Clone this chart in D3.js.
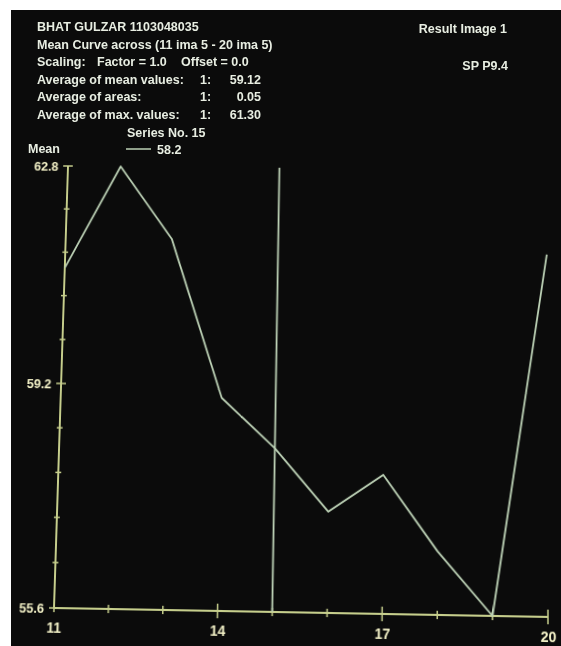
<!DOCTYPE html>
<html>

<head>
    <meta charset="UTF-8">
    <title>Mean Curve</title>
    <style>
        body {
            margin: 0;
            width: 561px;
            height: 646px;
            background: #fff;
            overflow: hidden;
            position: relative;
            font-family: 'Liberation Sans', Arial, sans-serif;
        }

        #screen {
            position: absolute;
            left: 11px;
            top: 10px;
            width: 550px;
            height: 636px;
            background: #0b0b0b;
        }

        svg {
            position: absolute;
            left: 0;
            top: 0;
        }

        #plot {
            transform-origin: 0 0;
        }
    </style>
</head>

<body>
    <div id="screen"></div>
    <svg id="plot" width="620" height="530"></svg>
    <svg id="head" width="561" height="646"></svg>

    <script src="https://cdn.jsdelivr.net/npm/d3@7"></script>
    <script>
        // values
        const images = [11, 12, 13, 14, 15, 16, 17, 18, 19, 20];
        const meanValues = [61.1, 62.8, 61.6, 59.0, 58.2, 57.2, 57.8, 56.6, 55.6, 61.4];
        const xLabels = [11, 14, 17, 20];
        const yLabels = [55.6, 59.2, 62.8];
        const yTicks = [55.6, 56.32, 57.04, 57.76, 58.48, 59.2, 59.92, 60.64, 61.36, 62.08, 62.8];
        const cursorImage = 15;
        const cursorValue = '58.2';
        const seriesNo = 15;

        const patient = 'BHAT GULZAR 1103048035';
        const title = 'Mean Curve across (11 ima 5 - 20 ima 5)';
        const scaling = ['Scaling:', 'Factor = 1.0', 'Offset = 0.0'];
        const infoLabels = ['Average of mean values:', 'Average of areas:', 'Average of max. values:'];
        const infoValues = ['59.12', '0.05', '61.30'];
        const resultLabels = ['Result Image 1', 'SP P9.4'];

        const axisColor = '#c6ce8c';
        const curveColor = '#bdd2b6';
        const labelColor = '#f2f0c6';
        const textColor = '#e8eee2';

        // plot in flat coords, then warped like the photo (keystone)
        const margin = { left: 70, top: 30 };
        const W = 494;
        const H = 442;

        const x = d3.scaleLinear().domain([11, 20]).range([margin.left, margin.left + W]);
        const y = d3.scaleLinear().domain([55.6, 62.8]).range([margin.top + H, margin.top]);

        const plot = d3.select('#plot');

        // axes
        plot.append('line')
            .attr('x1', x(11)).attr('x2', x(11))
            .attr('y1', y(55.6)).attr('y2', y(62.8))
            .attr('stroke', axisColor).attr('stroke-width', 2);
        plot.append('line')
            .attr('x1', x(11)).attr('x2', x(20))
            .attr('y1', y(55.6)).attr('y2', y(55.6))
            .attr('stroke', axisColor).attr('stroke-width', 2);

        plot.append('g')
            .selectAll('line')
            .data(yTicks)
            .enter()
            .append('line')
            .attr('x1', d => x(11) - (yLabels.includes(d) ? 5 : 3))
            .attr('x2', d => x(11) + (yLabels.includes(d) ? 5 : 3))
            .attr('y1', d => y(d)).attr('y2', d => y(d))
            .attr('stroke', axisColor).attr('stroke-width', 1.5);

        plot.append('g')
            .selectAll('line')
            .data(images)
            .enter()
            .append('line')
            .attr('x1', d => x(d)).attr('x2', d => x(d))
            .attr('y1', d => y(55.6) - (xLabels.includes(d) && d != 11 ? 7 : 4))
            .attr('y2', d => y(55.6) + (xLabels.includes(d) && d != 11 ? 7 : 4))
            .attr('stroke', axisColor).attr('stroke-width', 1.5);

        const yAxis = plot.append('g')
            .attr('transform', `translate(${x(11)},0)`)
            .call(d3.axisLeft(y).tickValues(yLabels).tickSize(0).tickPadding(10).tickFormat(d3.format('.1f')));
        const xAxis = plot.append('g')
            .attr('transform', `translate(0,${y(55.6)})`)
            .call(d3.axisBottom(x).tickValues(xLabels).tickSize(0).tickPadding(14));

        [yAxis, xAxis].forEach(a => {
            a.select('.domain').remove();
            a.selectAll('text')
                .attr('fill', labelColor)
                .style('font-family', "'Liberation Sans', Arial, sans-serif")
                .style('font-weight', 'bold');
        });
        yAxis.selectAll('text').style('font-size', '13px');
        xAxis.selectAll('text').style('font-size', '14px');

        // cursor
        plot.append('line')
            .attr('x1', x(cursorImage)).attr('x2', x(cursorImage))
            .attr('y1', y(55.6)).attr('y2', y(62.8))
            .attr('stroke', curveColor).attr('stroke-width', 1.8);

        // curve
        const line = d3.line()
            .x(d => x(d[0]))
            .y(d => y(d[1]));
        plot.append('path')
            .attr('d', line(d3.zip(images, meanValues)))
            .attr('fill', 'none')
            .attr('stroke', curveColor)
            .attr('stroke-width', 1.8)
            .attr('stroke-linejoin', 'round');

        // perspective of the photographed screen
        const src = [[x(11), y(62.8)], [x(20), y(62.8)], [x(20), y(55.6)], [x(11), y(55.6)]];
        const dst = [[68, 166], [546.5, 170], [548, 617], [54, 608]];

        function homography(src, dst) {
            const A = [];
            const b = [];
            for (let i = 0; i < 4; i++) {
                const [u, v] = src[i];
                const [X, Y] = dst[i];
                A.push([u, v, 1, 0, 0, 0, -u * X, -v * X]);
                b.push(X);
                A.push([0, 0, 0, u, v, 1, -u * Y, -v * Y]);
                b.push(Y);
            }
            const n = 8;
            for (let c = 0; c < n; c++) {
                let p = c;
                for (let r = c + 1; r < n; r++)
                    if (Math.abs(A[r][c]) > Math.abs(A[p][c])) p = r;
                [A[c], A[p]] = [A[p], A[c]];
                [b[c], b[p]] = [b[p], b[c]];
                for (let r = c + 1; r < n; r++) {
                    const f = A[r][c] / A[c][c];
                    for (let k = c; k < n; k++) A[r][k] -= f * A[c][k];
                    b[r] -= f * b[c];
                }
            }
            const h = new Array(n);
            for (let r = n - 1; r >= 0; r--) {
                let s = b[r];
                for (let k = r + 1; k < n; k++) s -= A[r][k] * h[k];
                h[r] = s / A[r][r];
            }
            return h;
        }

        const h = homography(src, dst);
        plot.style('transform',
            `matrix3d(${h[0]},${h[3]},0,${h[6]},${h[1]},${h[4]},0,${h[7]},0,0,1,0,${h[2]},${h[5]},0,1)`);

        // header texts
        const head = d3.select('#head')
            .style('font-family', "'Liberation Sans', Arial, sans-serif")
            .style('font-weight', 'bold')
            .style('font-size', '12.5px');

        function txt(t, px, py, anchor) {
            return head.append('text')
                .attr('x', px)
                .attr('y', py)
                .attr('text-anchor', anchor || 'start')
                .attr('fill', textColor)
                .text(t);
        }

        const lh = 17.5;
        txt(patient, 37, 31);
        txt(title, 37, 31 + lh);
        txt(scaling[0], 37, 31 + lh * 2);
        txt(scaling[1], 97, 31 + lh * 2);
        txt(scaling[2], 181, 31 + lh * 2);
        infoLabels.forEach((d, i) => {
            txt(d, 37, 31 + lh * (3 + i));
            txt('1:', 200, 31 + lh * (3 + i));
            txt(infoValues[i], 261, 31 + lh * (3 + i), 'end');
        });
        txt('Series No. ' + seriesNo, 127, 136.5);
        head.append('line')
            .attr('x1', 126).attr('x2', 151)
            .attr('y1', 149).attr('y2', 149)
            .attr('stroke', curveColor).attr('stroke-width', 1.5);
        txt(cursorValue, 157, 154);
        txt('Mean', 28, 153);

        txt(resultLabels[0], 507, 33, 'end');
        txt(resultLabels[1], 508, 70, 'end');
    </script>
</body>

</html>
